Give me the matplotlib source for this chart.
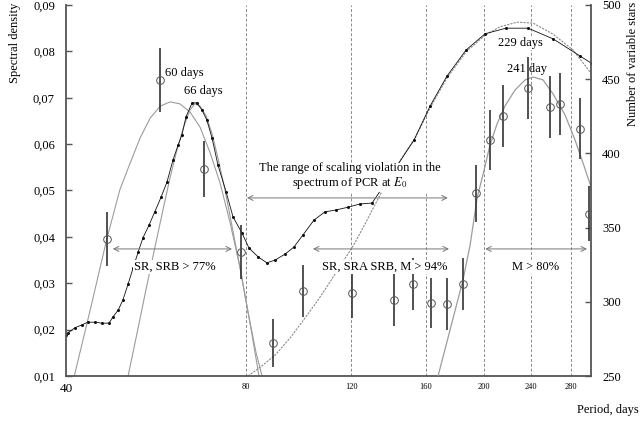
import matplotlib
matplotlib.use("Agg")
import matplotlib.pyplot as plt
from matplotlib.ticker import FixedLocator, NullLocator, FuncFormatter

plt.rcParams['font.family'] = ['Liberation Serif', 'DejaVu Serif']
plt.rcParams['mathtext.fontset'] = 'stix'

# Spectral density of PCR (left axis), black dotted curve
pcr_period = [40.0, 40.3, 41.4, 42.5, 43.5, 44.7, 45.9, 47.2, 47.9, 48.9, 49.8, 50.8, 51.8, 52.8,
              53.8, 55.1, 56.3, 57.7, 59.0, 60.4, 61.6, 62.5, 63.5, 65.0, 66.2, 67.5, 68.8, 70.2,
              71.8, 74.1, 76.1, 78.8, 80.9, 83.8, 86.7, 89.5, 93.0, 96.2, 99.6, 103.9, 108.4,
              113.1, 118.5, 124.1, 130.0, 140.9, 152.8, 162.5, 173.5, 186.7, 200.9, 217.7, 237.0,
              261.0, 289.5, 302.0]
pcr_density = [0.0188, 0.0193, 0.0204, 0.0210, 0.0216, 0.0216, 0.0214, 0.0214, 0.0227, 0.0242,
               0.0264, 0.0298, 0.0333, 0.0367, 0.0398, 0.0426, 0.0454, 0.0486, 0.0518, 0.0566,
               0.0598, 0.0620, 0.0659, 0.0689, 0.0689, 0.0674, 0.0652, 0.0613, 0.0555, 0.0497,
               0.0443, 0.0408, 0.0376, 0.0357, 0.0344, 0.0350, 0.0363, 0.0378, 0.0404, 0.0436,
               0.0454, 0.0458, 0.0464, 0.0471, 0.0473, 0.0540, 0.0609, 0.0682, 0.0747, 0.0803,
               0.0838, 0.0850, 0.0850, 0.0827, 0.0790, 0.0775]

# fitted curves (left axis)
fit_a_period = [41.3, 43.9, 46.8, 49.2, 51.2, 53.2, 55.3, 57.5, 59.7, 62.0, 64.5, 67.0, 69.6,
                72.4, 75.2, 78.2, 81.2, 84.1]
fit_a_density = [0.0100, 0.0242, 0.0395, 0.0501, 0.0559, 0.0613, 0.0656, 0.0682, 0.0691, 0.0687,
                 0.0669, 0.0637, 0.0583, 0.0516, 0.0432, 0.0333, 0.0216, 0.0100]
fit_b_period = [50.8, 52.6, 54.4, 56.3, 58.1, 59.7, 61.3, 63.0, 64.5, 65.7, 67.0, 68.6, 70.2,
                71.8, 73.8, 75.8, 78.2, 80.6, 83.1, 85.1]
fit_b_density = [0.0100, 0.0193, 0.0285, 0.0376, 0.0458, 0.0527, 0.0587, 0.0639, 0.0674, 0.0687,
                 0.0682, 0.0661, 0.0622, 0.0570, 0.0501, 0.0423, 0.0333, 0.0238, 0.0152, 0.0100]
fit_u_period = [80.6, 85.1, 89.5, 94.8, 100.4, 105.6, 110.6, 115.8, 120.8, 127.0, 134.0, 140.9,
                147.6, 153.4, 162.5, 173.5, 186.7, 200.9, 212.7, 227.2, 241.6, 261.0, 281.8, 302.0]
fit_u_density = [0.0100, 0.0122, 0.0145, 0.0182, 0.0225, 0.0264, 0.0303, 0.0344, 0.0380, 0.0432,
                 0.0490, 0.0540, 0.0581, 0.0613, 0.0678, 0.0743, 0.0799, 0.0835, 0.0853, 0.0863,
                 0.0861, 0.0837, 0.0803, 0.0753]

# number of variable stars (right axis)
star_period = [46.8, 57.5, 68.0, 78.5, 88.8, 99.6, 120.3, 141.4, 152.2, 163.1, 173.5, 184.5,
               194.0, 204.7, 215.2, 237.0, 258.0, 268.1, 289.5, 299.6]
star_count = [342.3, 449.5, 389.5, 333.6, 272.2, 307.3, 305.9, 301.2, 312.0, 299.2, 298.5, 312.0,
              373.3, 409.0, 425.2, 444.1, 431.3, 433.3, 416.5, 359.2]
star_err = [18.5, 21.6, 18.9, 18.2, 16.2, 17.5, 16.8, 17.5, 17.5, 16.8, 17.5, 17.5, 19.2, 20.2,
            20.6, 20.9, 20.6, 20.6, 20.6, 18.5]
fit_c_period = [167.6, 175.5, 184.5, 189.6, 194.8, 200.1, 204.7, 210.3, 216.9, 225.4, 234.3,
                241.6, 251.1, 261.0, 273.3, 284.0, 292.9, 302.0]
fit_c_count = [250.0, 281.0, 314.7, 338.3, 370.0, 388.8, 405.7, 419.8, 432.0, 442.7, 449.5,
               451.5, 449.5, 440.0, 425.9, 409.0, 393.5, 377.4]

grid_periods = [80, 120, 160, 200, 240, 280]
left_ticks = [0.01, 0.02, 0.03, 0.04, 0.05, 0.06, 0.07, 0.08, 0.09]
right_ticks = [250, 300, 350, 400, 450, 500]

fig = plt.figure(figsize=(6.4, 4.23), dpi=100)
ax = fig.add_axes([66 / 640, 47 / 423, 525 / 640, 371 / 423])
ax.set_xscale('log')
ax2 = ax.twinx()

ax.set_xlim(40, 302)
ax.set_ylim(0.01, 0.09)
ax2.set_ylim(250, 500)

for p in grid_periods:
    ax.axvline(p, color='#8a8a8a', lw=0.7, ls=(0, (3, 2)), zorder=1)

grey = '#9c9c9c'
ax.plot(fit_a_period, fit_a_density, color=grey, lw=0.8)
ax.plot(fit_b_period, fit_b_density, color=grey, lw=0.8)
ax.plot(fit_u_period, fit_u_density, color='#8c8c8c', lw=0.8, ls=(0, (2, 1)))
ax.plot(pcr_period, pcr_density, color='#111111', lw=0.6, marker='o', ms=1.2)

ax2.plot(fit_c_period, fit_c_count, color=grey, lw=0.9)
ax2.errorbar(star_period, star_count, yerr=star_err, fmt='o', mfc='none', mec='#555555',
             ms=5.5, mew=0.7, ecolor='#333333', elinewidth=1.2, capsize=0)

# axes styling
for a in (ax, ax2):
    a.spines['top'].set_visible(False)
    for s in a.spines.values():
        s.set_color('#555555')
        s.set_linewidth(1.3)
ax.spines['right'].set_visible(False)
ax2.spines['left'].set_visible(False)
ax2.spines['bottom'].set_visible(False)

ax.yaxis.set_major_locator(FixedLocator(left_ticks))
ax.yaxis.set_major_formatter(FuncFormatter(lambda v, _: f"{v:.2f}".replace('.', ',')))
ax.tick_params(axis='y', direction='in', length=4, width=1, color='#555555', labelsize=9, pad=8)
ax2.yaxis.set_major_locator(FixedLocator(right_ticks))
ax2.tick_params(axis='y', direction='in', length=4, width=1, color='#555555', labelsize=9, pad=8)

ax.set_xticks(grid_periods)
ax.set_xticklabels([str(p) for p in grid_periods])
ax.xaxis.set_minor_locator(NullLocator())
ax.tick_params(axis='x', length=0, labelsize=6, pad=5)
ax.text(40, -0.036, '40', transform=ax.get_xaxis_transform(), ha='center', va='center', fontsize=9.5)

# annotations
box = dict(fc='white', ec='none', pad=1)
td = ax.transData
arrow = dict(arrowstyle='<->', color='#777777', lw=0.7, shrinkA=0, shrinkB=0, mutation_scale=9)

ax2.text(58.6, 0.0753, '60 days', transform=td, ha='left', va='center', fontsize=9)
ax2.text(63.0, 0.0715, '66 days', transform=td, ha='left', va='center', fontsize=9)
ax2.text(211.1, 0.0818, '229 days', transform=td, ha='left', va='center', fontsize=9,
         bbox=box, zorder=10)
ax2.text(218.6, 0.0762, '241 day', transform=td, ha='left', va='center', fontsize=9)

ax2.text(119.4, 0.0530, 'The range of scaling violation in the\nspectrum of PCR at $E_0$',
         transform=td, ha='center', va='center', fontsize=9, linespacing=1.05,
         bbox=box, zorder=10)
ax2.annotate('', xy=(80.3, 0.0484), xytext=(174.0, 0.0484), xycoords=td, textcoords=td,
             arrowprops=arrow)

ax2.annotate('', xy=(47.9, 0.0374), xytext=(75.8, 0.0374), xycoords=td, textcoords=td,
             arrowprops=arrow)
ax2.text(60.9, 0.0335, 'SR, SRB > 77%', transform=td, ha='center', va='center', fontsize=9,
         bbox=box, zorder=10)
ax2.annotate('', xy=(103.5, 0.0374), xytext=(174.8, 0.0374), xycoords=td, textcoords=td,
             arrowprops=arrow)
ax2.text(136.6, 0.0335, 'SR, SRA SRB, M > 94%', transform=td, ha='center', va='center',
         fontsize=9, bbox=box, zorder=10)
ax2.annotate('', xy=(201.0, 0.0374), xytext=(297.4, 0.0374), xycoords=td, textcoords=td,
             arrowprops=arrow)
ax2.text(244.4, 0.0335, 'M > 80%', transform=td, ha='center', va='center', fontsize=9,
         bbox=box, zorder=10)

fig.text(15 / 640, 0.993, 'Spectral density', rotation=90, ha='center', va='top', fontsize=9)
fig.text(633 / 640, 0.995, 'Number of variable stars', rotation=90, ha='center', va='top',
         fontsize=9)
fig.text(577 / 640, 13 / 423, 'Period, days', ha='left', va='center', fontsize=9)

fig.savefig('out.png', dpi=100)
